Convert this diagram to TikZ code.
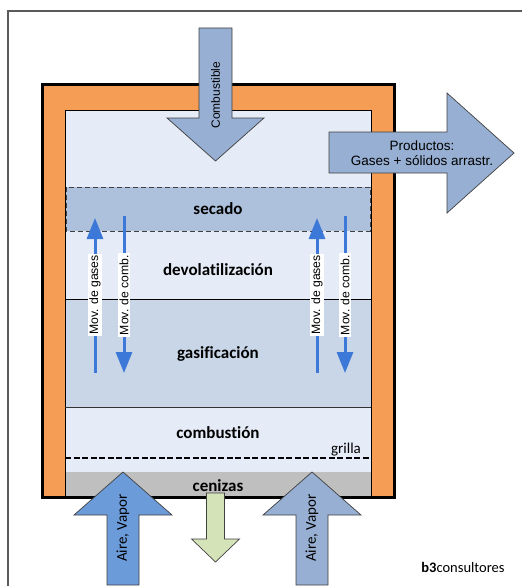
\documentclass[tikz,border=0pt]{standalone}
\usepackage{fontspec}
\setmainfont{Carlito}[Ligatures=NoCommon]
\newfontfamily\arialf{Liberation Sans}
\usetikzlibrary{arrows.meta}
\definecolor{orng}{HTML}{F69D55}
\definecolor{lightbg}{HTML}{E5ECF7}
\definecolor{secadoc}{HTML}{ADC1DC}
\definecolor{gasc}{HTML}{C8D6E8}
\definecolor{ceniz}{HTML}{BFBFBF}
\definecolor{arrgray}{HTML}{97AFD2}
\definecolor{arrblue}{HTML}{6C9BD9}
\definecolor{arrgreen}{HTML}{D5E3B8}
\definecolor{movblue}{HTML}{3C78D8}
\definecolor{framec}{HTML}{5A5A5A}
\tikzset{
  bigarrow/.style={draw=black!75, line width=0.7pt, line join=miter},
  zonelabel/.style={font=\fontsize{17}{20}\selectfont\bfseries, inner sep=0pt},
  arrlabel/.style={font=\arialf\fontsize{12}{14}\selectfont, inner sep=0pt},
  movlabel/.style={font=\arialf\fontsize{12.2}{14}\selectfont, fill=white, inner sep=1.7pt, rotate=90},
  movarrow/.style={draw=movblue, line width=3pt, -{Triangle[width=16pt,length=21pt]}},
}
\begin{document}
\begin{tikzpicture}[x=1pt,y=-1pt]
\useasboundingbox (0,0) rectangle (522,586);
% frame
\draw[framec, line width=1.5pt] (8,586) -- (8,11) -- (522,11);
% furnace
\draw[line width=3pt, fill=orng] (42,84.5) rectangle (394.5,497.5);
\fill[lightbg] (65,110) rectangle (371,496);
\fill[secadoc] (65,187) rectangle (371,231);
\fill[gasc] (65,299) rectangle (371,407);
\fill[ceniz] (65,472) rectangle (371,496);
\draw[line width=0.7pt] (65,496) -- (65,110) -- (371,110) -- (371,496);
\draw[black!75, line width=0.7pt, dash pattern=on 5pt off 3pt] (66,187) rectangle (370,231);
\draw[line width=0.8pt] (65,299) -- (371,299);
\draw[black!80, line width=0.8pt] (65,407) -- (371,407);
\draw[line width=2.6pt, dash pattern=on 6pt off 2.5pt] (65,458) -- (371,458);
% zone labels
\node[zonelabel] (secado) at (218,209) {secado};
\node[zonelabel] (devol) at (218,270) {devolatilización};
\node[zonelabel] (gasif) at (218,354) {gasificación};
\node[zonelabel] (combu) at (218,433) {combustión};
\node[zonelabel] (ceniz) at (218,486) {cenizas};
\node[font=\fontsize{15}{17}\selectfont, inner sep=0pt] (grilla) at (346,450) {grilla};
% movement arrows
\coordinate (g1a) at (95,373); \coordinate (g1b) at (95,218);
\coordinate (c1a) at (124,216); \coordinate (c1b) at (124,373);
\coordinate (g2a) at (317,373); \coordinate (g2b) at (317,218);
\coordinate (c2a) at (345,216); \coordinate (c2b) at (345,373);
\draw[movarrow] (g1a) -- (g1b);
\draw[movarrow] (c1a) -- (c1b);
\draw[movarrow] (g2a) -- (g2b);
\draw[movarrow] (c2a) -- (c2b);
\node[movlabel] (mg1) at (95,295) {Mov. de gases};
\node[movlabel] (mc1) at (124,295) {Mov. de comb.};
\node[movlabel] (mg2) at (317,295) {Mov. de gases};
\node[movlabel] (mc2) at (345,295) {Mov. de comb.};
% Combustible arrow
\draw[bigarrow, fill=arrgray] (199,28) -- (232,28) -- (232,118) -- (264,118) -- (215.5,161) -- (167,118) -- (199,118) -- cycle;
\node[arrlabel, rotate=90] (comb) at (215.5,95) {Combustible};
% Productos arrow
\draw[bigarrow, fill=arrgray] (329,132) -- (447,132) -- (447,93) -- (514,153) -- (447,213) -- (447,173) -- (329,173) -- cycle;
\node[font=\arialf\fontsize{13.5}{14.5}\selectfont, align=center, inner sep=0pt] (prod) at (422,153) {Productos:\\Gases + sólidos arrastr.};
% Aire, Vapor arrows
\draw[bigarrow, fill=arrblue] (107,585) -- (107,515) -- (74,515) -- (123,472) -- (172,515) -- (139,515) -- (139,585) -- cycle;
\node[font=\fontsize{15}{17}\selectfont, inner sep=0pt, rotate=90] (aire1) at (123,528) {Aire, Vapor};
\draw[bigarrow, fill=arrgray] (296,585) -- (296,515) -- (263,515) -- (312,472) -- (361,515) -- (328,515) -- (328,585) -- cycle;
\node[font=\fontsize{15}{17}\selectfont, inner sep=0pt, rotate=90] (aire2) at (312,528) {Aire, Vapor};
% cenizas arrow
\draw[bigarrow, fill=arrgreen] (206.5,493) -- (224.5,493) -- (224.5,539) -- (239.5,539) -- (215.5,562) -- (191.5,539) -- (206.5,539) -- cycle;
% logo
\node[font=\fontsize{14.5}{17}\selectfont, inner sep=0pt] (logo) at (463,567) {\textbf{b3}consultores};
\end{tikzpicture}
\end{document}
